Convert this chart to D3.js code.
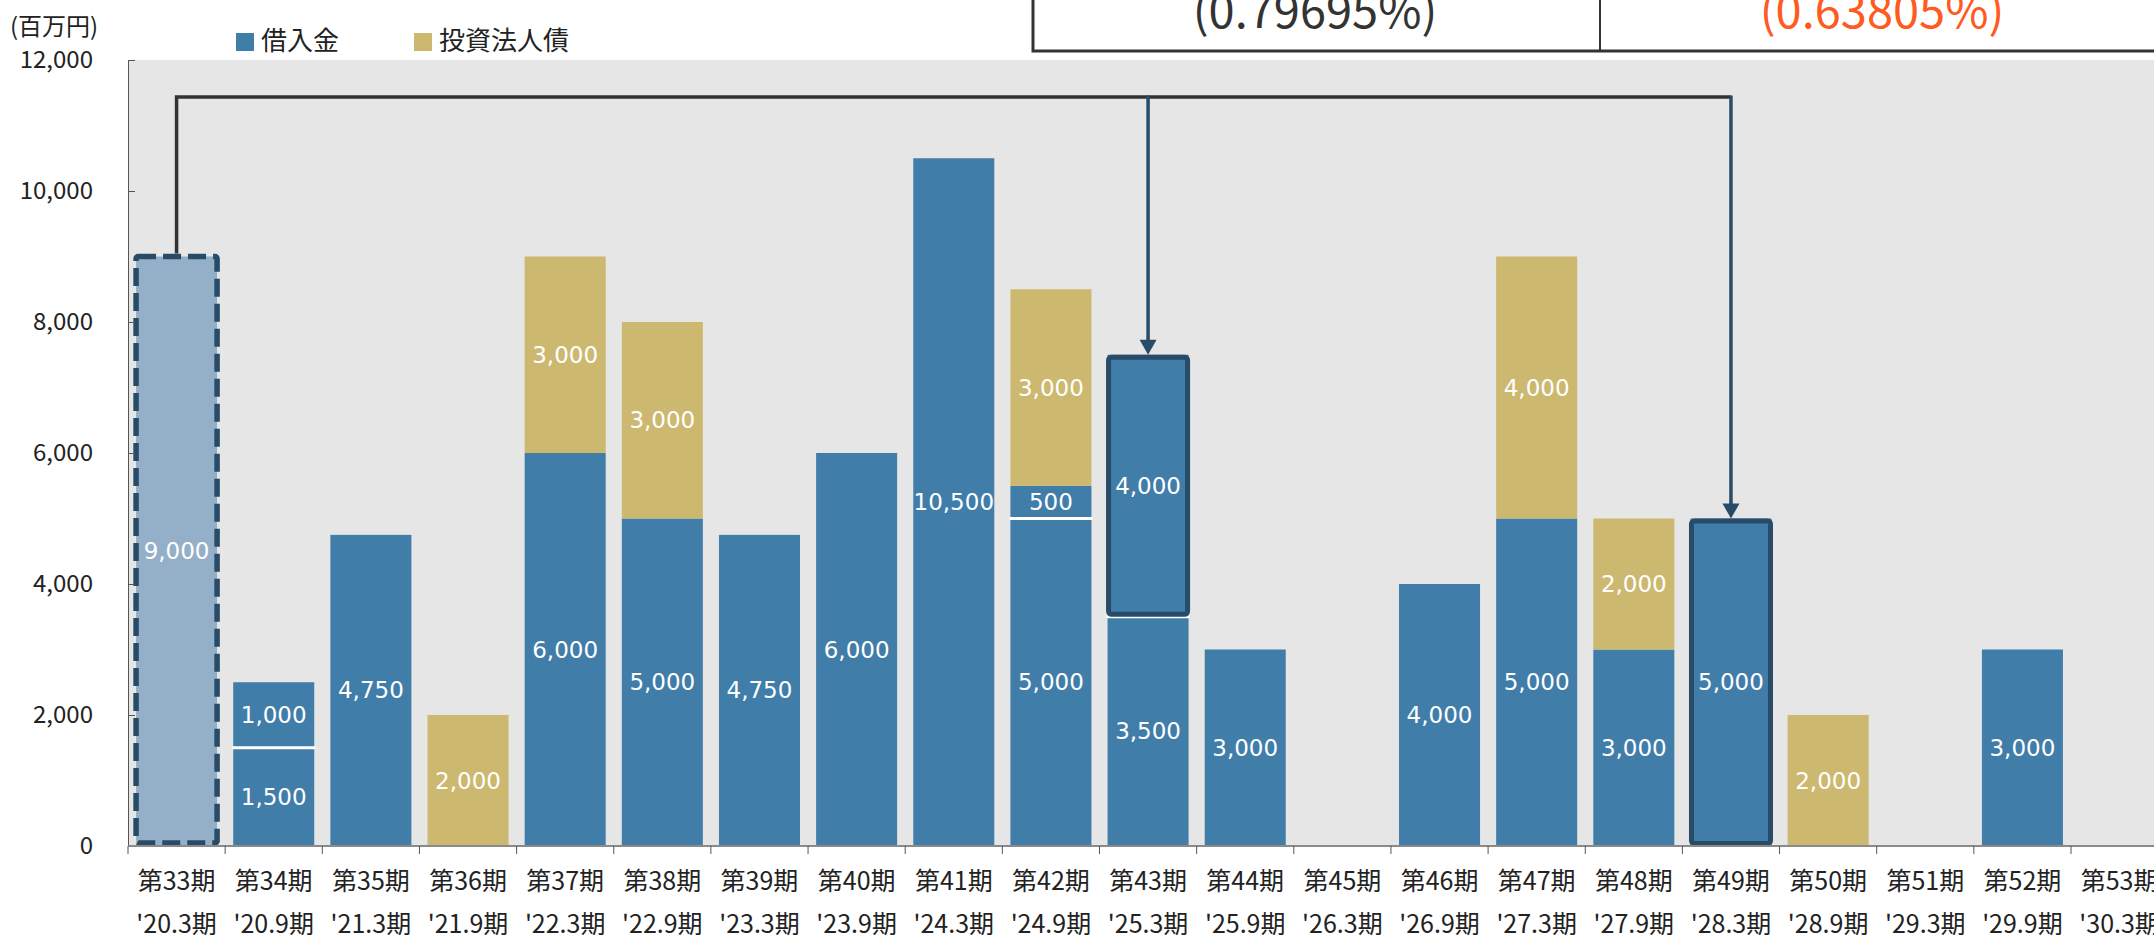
<!DOCTYPE html>
<html>
<head>
<meta charset="utf-8">
<script src="https://cdn.jsdelivr.net/npm/d3@7"></script>
<style>
  body { margin: 0; background: #ffffff; }
  svg { display: block; }
</style>
</head>
<body>
<svg id="chart" width="2154" height="940"></svg>
<script>
// ---- data ----------------------------------------------------------
const periods = ['第33期','第34期','第35期','第36期','第37期','第38期','第39期','第40期','第41期','第42期',
                 '第43期','第44期','第45期','第46期','第47期','第48期','第49期','第50期','第51期','第52期','第53期'];
const fiscalTerms = ["'20.3期","'20.9期","'21.3期","'21.9期","'22.3期","'22.9期","'23.3期","'23.9期","'24.3期","'24.9期",
                     "'25.3期","'25.9期","'26.3期","'26.9期","'27.3期","'27.9期","'28.3期","'28.9期","'29.3期","'29.9期","'30.3期"];
// 借入金 (lower block) and an additional 借入金 block stacked on it
const loanBase  = [9000, 1500, 4750, 0, 6000, 5000, 4750, 6000, 10500, 5000, 3500, 3000, 0, 4000, 5000, 3000, 5000, 0, 0, 3000, 0];
const loanAdded = [0, 1000, 0, 0, 0, 0, 0, 0, 0, 500, 4000, 0, 0, 0, 0, 0, 0, 0, 0, 0, 0];
// 投資法人債
const bonds     = [0, 0, 0, 2000, 3000, 3000, 0, 0, 0, 3000, 0, 0, 0, 0, 4000, 2000, 0, 2000, 0, 0, 0];
const seriesNames = ['借入金', '投資法人債'];
const yTicks = [0, 2000, 4000, 6000, 8000, 10000, 12000];
const unitLabel = '(百万円)';
const rateLabels = ['(0.79695%)', '(0.63805%)'];
// refinancing: maturing block and the blocks it was moved to
const refinancedFrom = '第33期';
const refinancedTo = [['第43期', 'added'], ['第49期', 'base']];

// ---- styles --------------------------------------------------------
const C = {
  loan: '#417DA9', bond: '#CDB86F', matured: '#94B0C8', navy: '#284B68',
  plot: '#E6E6E6', axis: '#555555', text: '#222222', rateHi: '#FF5A1F', link: '#333333'
};
const jp = '"Noto Sans CJK JP", "Noto Sans", sans-serif';
const num = '"DejaVu Sans", Verdana, sans-serif';
const fmt = d3.format(',');

const W = 2154, H = 940;
const svg = d3.select('#chart');

const plotL = 128, plotT = 60, plotB = 846;
const step = 97.15;
const x = d3.scaleBand().domain(periods)
  .range([plotL, plotL + periods.length * step])
  .paddingInner(0.166).paddingOuter(0.083);
const y = d3.scaleLinear().domain([0, 12000]).range([plotB, plotT]);

// plot background
svg.append('rect').attr('x', plotL).attr('y', plotT)
  .attr('width', W - plotL).attr('height', plotB - plotT).attr('fill', C.plot);

// ---- stacked segments ---------------------------------------------
const segs = [];
periods.forEach((p, i) => {
  const b = loanBase[i], a = loanAdded[i], d = bonds[i];
  if (b > 0) segs.push({ p, part: 'base', y0: 0, y1: b, v: b, fill: p === refinancedFrom ? C.matured : C.loan });
  if (a > 0) segs.push({ p, part: 'added', y0: b, y1: b + a, v: a, fill: C.loan });
  if (d > 0) segs.push({ p, part: 'bond', y0: b + a, y1: b + a + d, v: d, fill: C.bond });
});

const gBars = svg.append('g');
gBars.selectAll('rect.seg').data(segs).join('rect')
  .attr('class', 'seg')
  .attr('x', d => x(d.p)).attr('width', x.bandwidth())
  .attr('y', d => y(d.y1)).attr('height', d => y(d.y0) - y(d.y1))
  .attr('fill', d => d.fill);

// white separator between the two 借入金 blocks
gBars.selectAll('line.sep').data(segs.filter(d => d.part === 'added')).join('line')
  .attr('class', 'sep')
  .attr('x1', d => x(d.p) - 1).attr('x2', d => x(d.p) + x.bandwidth() + 1)
  .attr('y1', d => y(d.y0)).attr('y2', d => y(d.y0))
  .attr('stroke', '#ffffff').attr('stroke-width', 3);

// dashed outline on the maturing block
const src = segs.find(d => d.p === refinancedFrom && d.part === 'base');
svg.append('rect')
  .attr('x', x(src.p)).attr('width', x.bandwidth())
  .attr('y', y(src.y1)).attr('height', y(src.y0) - y(src.y1) - 3)
  .attr('fill', 'none').attr('stroke', C.navy).attr('stroke-width', 5.5)
  .attr('stroke-dasharray', '18,7').attr('rx', 2);

// solid outlines on the target blocks
const targets = refinancedTo.map(([p, part]) => segs.find(d => d.p === p && d.part === part));
svg.selectAll('rect.target').data(targets).join('rect')
  .attr('class', 'target')
  .attr('x', d => x(d.p) + 1).attr('width', x.bandwidth() - 2)
  .attr('y', d => y(d.y1) + 2.5).attr('height', d => y(d.y0) - y(d.y1) - 5)
  .attr('fill', 'none').attr('stroke', C.navy).attr('stroke-width', 5).attr('rx', 3);

// value labels
svg.append('g').selectAll('text').data(segs).join('text')
  .attr('x', d => x(d.p) + x.bandwidth() / 2)
  .attr('y', d => (y(d.y0) + y(d.y1)) / 2)
  .attr('text-anchor', 'middle').attr('dominant-baseline', 'central')
  .attr('font-family', num).attr('font-size', 23).attr('fill', '#ffffff')
  .text(d => fmt(d.v));

// ---- refinancing connector -----------------------------------------
const cx = p => x(p) + x.bandwidth() / 2;
const linkY = plotT + 37;
svg.append('path')
  .attr('d', `M${cx(src.p)},${y(src.y1) - 3}V${linkY}H${cx(targets[targets.length - 1].p)}`)
  .attr('fill', 'none').attr('stroke', C.link).attr('stroke-width', 3.5);
targets.forEach(t => {
  const tip = y(t.y1);
  svg.append('line')
    .attr('x1', cx(t.p)).attr('x2', cx(t.p))
    .attr('y1', linkY - 1.5).attr('y2', tip - 14)
    .attr('stroke', C.navy).attr('stroke-width', 3.5);
  svg.append('path')
    .attr('d', `M${cx(t.p) - 8.5},${tip - 15}L${cx(t.p) + 8.5},${tip - 15}L${cx(t.p)},${tip}Z`)
    .attr('fill', C.navy);
});

// ---- axes ----------------------------------------------------------
const yAxis = svg.append('g').attr('transform', `translate(${plotL},0)`)
  .call(d3.axisLeft(y).tickValues(yTicks).tickFormat(fmt).tickSize(-7).tickSizeOuter(0).tickPadding(35));
yAxis.select('.domain').attr('stroke', C.axis).attr('stroke-width', 1);
yAxis.selectAll('.tick line').attr('stroke', C.axis);
yAxis.selectAll('.tick text').attr('font-family', jp).attr('font-size', 24).attr('fill', C.text);

const xAxis = svg.append('g').attr('transform', `translate(0,${plotB})`)
  .call(d3.axisBottom(x).tickSize(0).tickPadding(0));
xAxis.select('.domain').remove();
xAxis.selectAll('.tick text').each(function (p, i) {
  const t = d3.select(this).text(null)
    .attr('font-family', jp).attr('font-size', 25).attr('fill', C.text).attr('y', 0).attr('dy', null);
  t.append('tspan').attr('x', 0).attr('y', 33).attr('dominant-baseline', 'central').text(p);
  t.append('tspan').attr('x', 0).attr('y', 76).attr('dominant-baseline', 'central').text(fiscalTerms[i]);
});
svg.append('line').attr('x1', plotL).attr('x2', W).attr('y1', plotB).attr('y2', plotB)
  .attr('stroke', '#8a8a8a').attr('stroke-width', 2);
svg.append('g').selectAll('line').data(d3.range(periods.length + 1)).join('line')
  .attr('x1', k => x.range()[0] + k * x.step()).attr('x2', k => x.range()[0] + k * x.step())
  .attr('y1', plotB).attr('y2', plotB + 8)
  .attr('stroke', C.axis).attr('stroke-width', 1);

// ---- unit + legend -------------------------------------------------
svg.append('text').attr('x', 10).attr('y', 24).attr('dominant-baseline', 'central')
  .attr('font-family', jp).attr('font-size', 24).attr('fill', C.text).text(unitLabel);

const legendX = [236, 414];
const legend = svg.append('g');
seriesNames.forEach((name, i) => {
  legend.append('rect').attr('x', legendX[i]).attr('y', 33).attr('width', 18).attr('height', 18)
    .attr('fill', i === 0 ? C.loan : C.bond);
  legend.append('text').attr('x', legendX[i] + 25).attr('y', 38).attr('dominant-baseline', 'central')
    .attr('font-family', jp).attr('font-size', 26).attr('fill', C.text).text(name);
});

// ---- rate box ------------------------------------------------------
const box = svg.append('g');
box.append('rect').attr('x', 1033).attr('y', -10).attr('width', W - 1033 + 10).attr('height', 61)
  .attr('fill', '#ffffff').attr('stroke', C.link).attr('stroke-width', 3);
box.append('line').attr('x1', 1600).attr('x2', 1600).attr('y1', -10).attr('y2', 51)
  .attr('stroke', C.link).attr('stroke-width', 2);
[[1315, C.link], [1882, C.rateHi]].forEach(([tx, col], i) => {
  box.append('text').attr('x', tx).attr('y', 28).attr('text-anchor', 'middle')
    .attr('font-family', jp).attr('font-size', 47).attr('fill', col).text(rateLabels[i]);
});
</script>
</body>
</html>
